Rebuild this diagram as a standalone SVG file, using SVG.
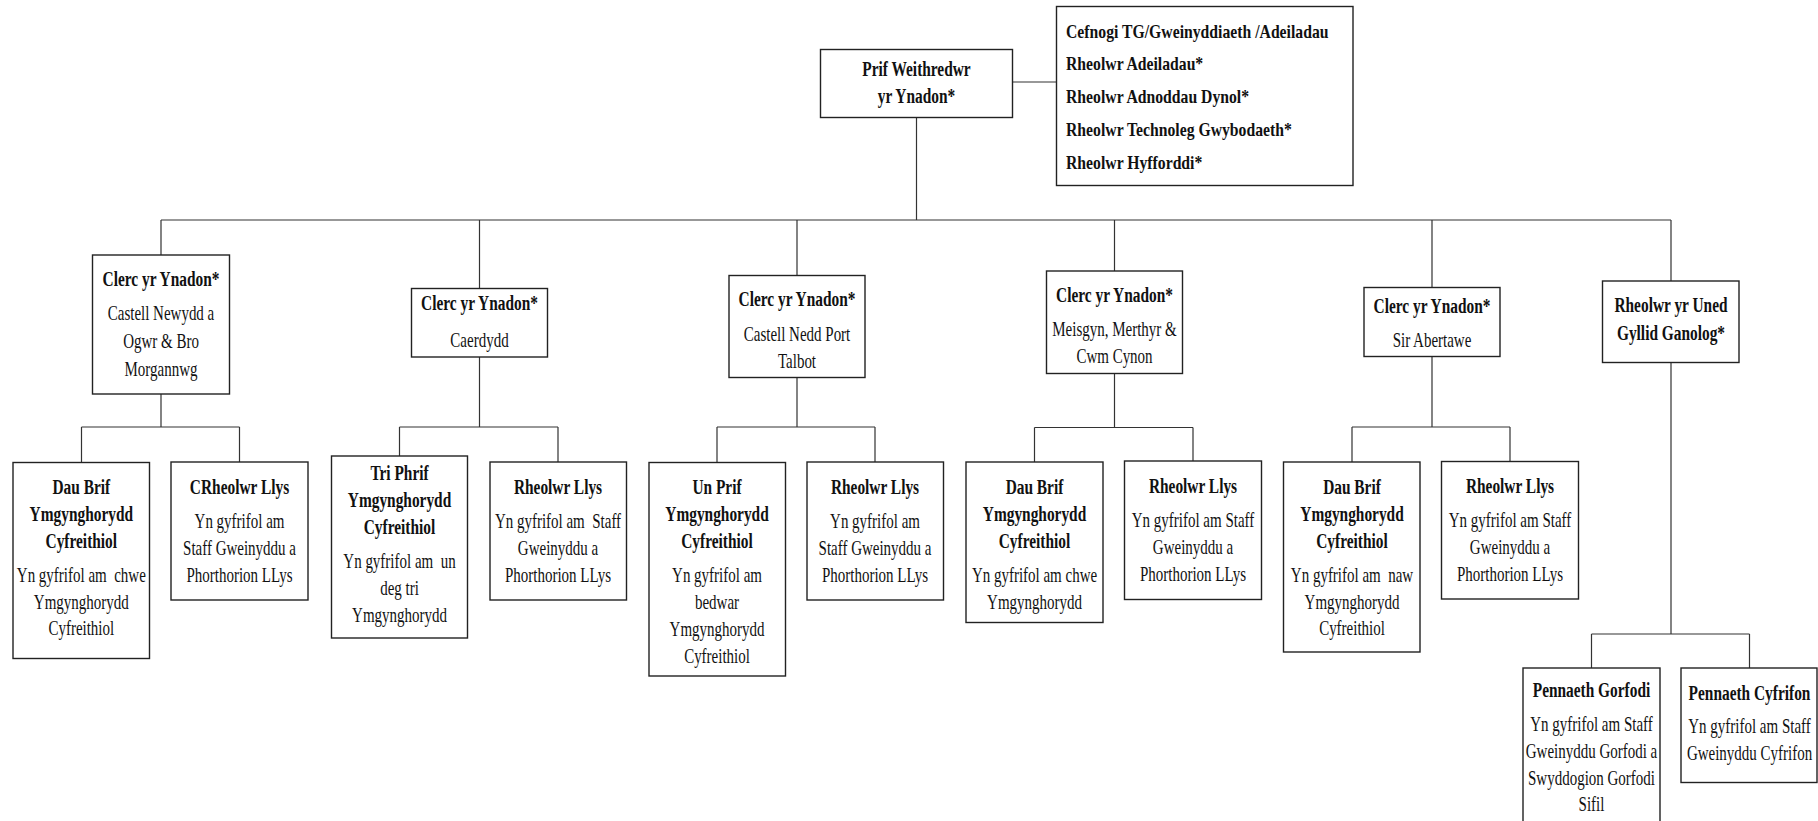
<svg xmlns="http://www.w3.org/2000/svg" width="1818" height="821" viewBox="0 0 1818 821">
<style>
.box { fill: #fff; stroke: #222; stroke-width: 1.4; }
.conn path { stroke: #333; stroke-width: 1.2; fill: none; }
text { font-family: "Liberation Serif", "Times New Roman", serif; font-size: 20px; fill: #111; white-space: pre; }
.h { font-weight: bold; transform: scaleX(0.77); text-anchor: middle; }
.r { transform: scaleX(0.75); text-anchor: middle; }
.l { font-weight: bold; font-size: 18.5px; transform: scaleX(0.85); text-anchor: start; }
</style>
<g class="conn" id="connectors">
<path d="M1012.5 82 H1056.5"/>
<path d="M916.5 117.5 V220"/>
<path d="M161 220 H1671"/>
<path d="M161 220 V255 M479.5 220 V288.5 M797 220 V275.5 M1114.5 220 V271 M1432 220 V287.5 M1671 220 V281"/>
<path d="M161 394 V427 M81.5 427 H239.5 M81.5 427 V462.5 M239.5 427 V462"/>
<path d="M479.5 357 V427 M399.5 427 H558 M399.5 427 V456 M558 427 V462"/>
<path d="M797 377.5 V427 M717 427 H875 M717 427 V462.5 M875 427 V462"/>
<path d="M1114.5 373.5 V427.5 M1034.5 427.5 H1193 M1034.5 427.5 V462 M1193 427.5 V461"/>
<path d="M1432 356.5 V427 M1352 427 H1510 M1352 427 V462 M1510 427 V461.5"/>
<path d="M1671 362.5 V634 M1591.5 634 H1749.5 M1591.5 634 V668 M1749.5 634 V668"/>
</g>
<g id="n-top">
<rect class="box" x="820.5" y="49.5" width="192" height="68"/>
<g transform="translate(916.5 0)">
<text class="h" x="0" y="76">Prif Weithredwr</text>
<text class="h" x="0" y="103">yr Ynadon*</text>
</g>
</g>
<g id="n-support">
<rect class="box" x="1056.5" y="6.5" width="296.5" height="179"/>
<g transform="translate(1066 0)">
<text class="l" x="0" y="38">Cefnogi TG/Gweinyddiaeth /Adeiladau</text>
<text class="l" x="0" y="70.5">Rheolwr Adeiladau*</text>
<text class="l" x="0" y="103.5">Rheolwr Adnoddau Dynol*</text>
<text class="l" x="0" y="136.5">Rheolwr Technoleg Gwybodaeth*</text>
<text class="l" x="0" y="169.5">Rheolwr Hyfforddi*</text>
</g>
</g>
<g id="n-b1">
<rect class="box" x="92.5" y="255" width="137" height="139"/>
<g transform="translate(161 0)">
<text class="h" x="0" y="286">Clerc yr Ynadon*</text>
<text class="r" x="0" y="320">Castell Newydd a</text>
<text class="r" x="0" y="348">Ogwr &amp; Bro</text>
<text class="r" x="0" y="376">Morgannwg</text>
</g>
</g>
<g id="n-b2">
<rect class="box" x="411.5" y="288.5" width="136" height="68.5"/>
<g transform="translate(479.5 0)">
<text class="h" x="0" y="310.5">Clerc yr Ynadon*</text>
<text class="r" x="0" y="346.5">Caerdydd</text>
</g>
</g>
<g id="n-b3">
<rect class="box" x="729" y="275.5" width="136" height="102"/>
<g transform="translate(797 0)">
<text class="h" x="0" y="306">Clerc yr Ynadon*</text>
<text class="r" x="0" y="341">Castell Nedd Port</text>
<text class="r" x="0" y="368.5">Talbot</text>
</g>
</g>
<g id="n-b4">
<rect class="box" x="1046.5" y="271" width="136" height="102.5"/>
<g transform="translate(1114.5 0)">
<text class="h" x="0" y="302">Clerc yr Ynadon*</text>
<text class="r" x="0" y="336">Meisgyn, Merthyr &amp;</text>
<text class="r" x="0" y="363.5">Cwm Cynon</text>
</g>
</g>
<g id="n-b5">
<rect class="box" x="1364" y="287.5" width="136" height="69"/>
<g transform="translate(1432 0)">
<text class="h" x="0" y="313">Clerc yr Ynadon*</text>
<text class="r" x="0" y="346.5">Sir Abertawe</text>
</g>
</g>
<g id="n-b6">
<rect class="box" x="1602.5" y="281" width="136.5" height="81.5"/>
<g transform="translate(1671 0)">
<text class="h" x="0" y="312">Rheolwr yr Uned</text>
<text class="h" x="0" y="340">Gyllid Ganolog*</text>
</g>
</g>
<g id="n-c1">
<rect class="box" x="13" y="462.5" width="136.5" height="196"/>
<g transform="translate(81.3 0)">
<text class="h" x="0" y="494.5">Dau Brif</text>
<text class="h" x="0" y="521.5">Ymgynghorydd</text>
<text class="h" x="0" y="548">Cyfreithiol</text>
<text class="r" x="0" y="582.5">Yn gyfrifol am  chwe</text>
<text class="r" x="0" y="609">Ymgynghorydd</text>
<text class="r" x="0" y="635.5">Cyfreithiol</text>
</g>
</g>
<g id="n-c2">
<rect class="box" x="171" y="462" width="137" height="138"/>
<g transform="translate(239.5 0)">
<text class="h" x="0" y="494.5">CRheolwr Llys</text>
<text class="r" x="0" y="528">Yn gyfrifol am</text>
<text class="r" x="0" y="555">Staff Gweinyddu a</text>
<text class="r" x="0" y="582">Phorthorion LLys</text>
</g>
</g>
<g id="n-c3">
<rect class="box" x="331.5" y="456" width="136" height="182"/>
<g transform="translate(399.5 0)">
<text class="h" x="0" y="480">Tri Phrif</text>
<text class="h" x="0" y="507">Ymgynghorydd</text>
<text class="h" x="0" y="534">Cyfreithiol</text>
<text class="r" x="0" y="568">Yn gyfrifol am  un</text>
<text class="r" x="0" y="595">deg tri</text>
<text class="r" x="0" y="622">Ymgynghorydd</text>
</g>
</g>
<g id="n-c4">
<rect class="box" x="490" y="462" width="136.5" height="138"/>
<g transform="translate(558 0)">
<text class="h" x="0" y="494.5">Rheolwr Llys</text>
<text class="r" x="0" y="528">Yn gyfrifol am  Staff</text>
<text class="r" x="0" y="555">Gweinyddu a</text>
<text class="r" x="0" y="582">Phorthorion LLys</text>
</g>
</g>
<g id="n-c5">
<rect class="box" x="649" y="462.5" width="136.5" height="213.5"/>
<g transform="translate(717 0)">
<text class="h" x="0" y="494.5">Un Prif</text>
<text class="h" x="0" y="521.5">Ymgynghorydd</text>
<text class="h" x="0" y="548">Cyfreithiol</text>
<text class="r" x="0" y="582.5">Yn gyfrifol am</text>
<text class="r" x="0" y="609">bedwar</text>
<text class="r" x="0" y="636">Ymgynghorydd</text>
<text class="r" x="0" y="663">Cyfreithiol</text>
</g>
</g>
<g id="n-c6">
<rect class="box" x="807" y="462" width="136.5" height="138"/>
<g transform="translate(875 0)">
<text class="h" x="0" y="494.5">Rheolwr Llys</text>
<text class="r" x="0" y="528">Yn gyfrifol am</text>
<text class="r" x="0" y="555">Staff Gweinyddu a</text>
<text class="r" x="0" y="582">Phorthorion LLys</text>
</g>
</g>
<g id="n-c7">
<rect class="box" x="966" y="462" width="137" height="160.5"/>
<g transform="translate(1034.5 0)">
<text class="h" x="0" y="494.5">Dau Brif</text>
<text class="h" x="0" y="521.5">Ymgynghorydd</text>
<text class="h" x="0" y="548">Cyfreithiol</text>
<text class="r" x="0" y="582.5">Yn gyfrifol am chwe</text>
<text class="r" x="0" y="609">Ymgynghorydd</text>
</g>
</g>
<g id="n-c8">
<rect class="box" x="1124.5" y="461" width="137" height="138.5"/>
<g transform="translate(1193 0)">
<text class="h" x="0" y="493.5">Rheolwr Llys</text>
<text class="r" x="0" y="527">Yn gyfrifol am Staff</text>
<text class="r" x="0" y="554">Gweinyddu a</text>
<text class="r" x="0" y="581">Phorthorion LLys</text>
</g>
</g>
<g id="n-c9">
<rect class="box" x="1283.5" y="462" width="136.5" height="190"/>
<g transform="translate(1352 0)">
<text class="h" x="0" y="494.5">Dau Brif</text>
<text class="h" x="0" y="521.5">Ymgynghorydd</text>
<text class="h" x="0" y="548">Cyfreithiol</text>
<text class="r" x="0" y="582.5">Yn gyfrifol am  naw</text>
<text class="r" x="0" y="609">Ymgynghorydd</text>
<text class="r" x="0" y="635.5">Cyfreithiol</text>
</g>
</g>
<g id="n-c10">
<rect class="box" x="1441.5" y="461.5" width="137" height="137.5"/>
<g transform="translate(1510 0)">
<text class="h" x="0" y="493.5">Rheolwr Llys</text>
<text class="r" x="0" y="527">Yn gyfrifol am Staff</text>
<text class="r" x="0" y="554">Gweinyddu a</text>
<text class="r" x="0" y="581">Phorthorion LLys</text>
</g>
</g>
<g id="n-c11">
<rect class="box" x="1523" y="668" width="137" height="170"/>
<g transform="translate(1591.5 0)">
<text class="h" x="0" y="697">Pennaeth Gorfodi</text>
<text class="r" x="0" y="731.5">Yn gyfrifol am Staff</text>
<text class="r" x="0" y="758">Gweinyddu Gorfodi a</text>
<text class="r" x="0" y="785">Swyddogion Gorfodi</text>
<text class="r" x="0" y="811.5">Sifil</text>
</g>
</g>
<g id="n-c12">
<rect class="box" x="1681" y="668" width="136" height="114.5"/>
<g transform="translate(1749.5 0)">
<text class="h" x="0" y="700">Pennaeth Cyfrifon</text>
<text class="r" x="0" y="733.5">Yn gyfrifol am Staff</text>
<text class="r" x="0" y="760">Gweinyddu Cyfrifon</text>
</g>
</g>
</svg>
